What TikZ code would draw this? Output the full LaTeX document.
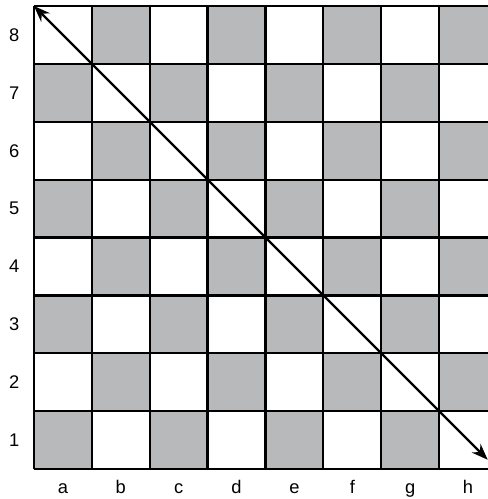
\documentclass[tikz,border=0pt]{standalone}
\usepackage{fontspec}
\setmainfont{Liberation Sans}
\usetikzlibrary{arrows.meta}
\definecolor{sqgray}{HTML}{B8B9BB}
\tikzset{lbl/.style={font=\fontsize{9}{10}\selectfont,inner sep=0pt}}
\begin{document}
\begin{tikzpicture}
\useasboundingbox(-.587,-.518)rectangle(7.841,8.104);
\begin{scope}
\clip(-.587,-.518)rectangle(7.841,8.104);
\foreach\i in{0,...,7}\foreach\j in{0,...,7}{\pgfmathparse{int(mod(\i+\j,2))}\ifnum\pgfmathresult=0\fill[sqgray](\i,\j)rectangle++(1,1);\fi}
\draw[line width=1.1pt](0,0)grid(8,8);
\end{scope}
\foreach\r in{1,...,8}\node[lbl](r\r)at(-.34,\r-.5){\r};
\foreach\f[count=\k from 0]in{a,b,c,d,e,f,g,h}\node[lbl,anchor=base](f\f)at(\k+.5,-.43){\f};
\coordinate(tl)at(0,8);\coordinate(br)at(7.84,.16);
\draw[line width=1.1pt,{Stealth[length=8pt,width=6pt]}-{Stealth[length=8pt,width=6pt]}](tl)--(br);
\end{tikzpicture}
\end{document}
